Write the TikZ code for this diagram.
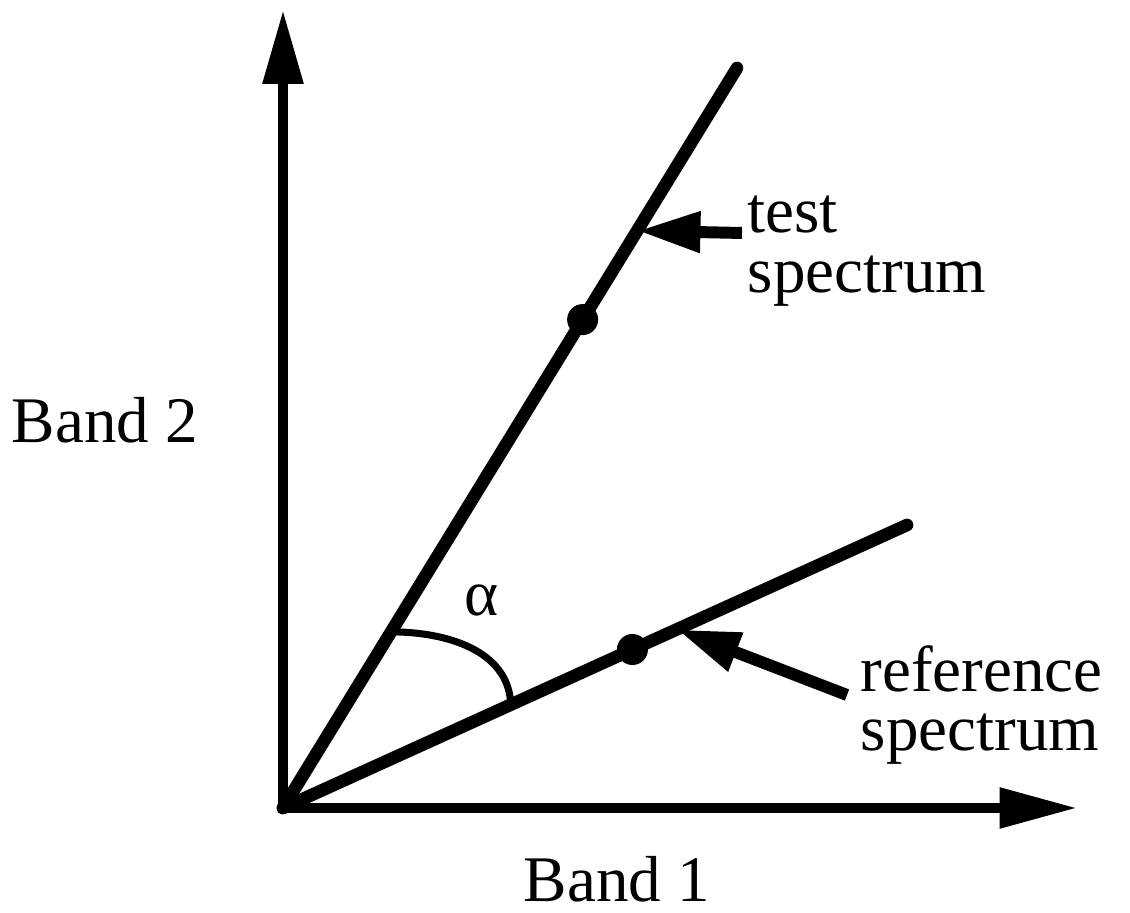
\documentclass[tikz,border=0pt]{standalone}
\usepackage{fontspec}
\setmainfont{Liberation Serif}
\usetikzlibrary{arrows.meta}

\begin{document}
\begin{tikzpicture}[x=0.01cm, y=0.01cm,
          axis/.style={line width=2.8pt, line join=miter,
            arrows={Triangle[length=21pt, width=11pt]-Triangle[length=22pt, width=11pt]}},
          spec/.style={line width=3.6pt, line cap=round},
          ptr/.style={line width=3.4pt, -{Triangle[length=18pt, width=11pt]}},
          dot/.style={circle, fill, inner sep=0pt, minimum size=0.31cm},
          lbl/.style={font=\fontsize{18.5}{17}\selectfont, inner sep=0pt, align=left}]
        \useasboundingbox (-283,-105) rectangle (847,808);
        \coordinate (o) at (0,0);
        \coordinate (yt) at (0,798);
        \coordinate (xt) at (794,0);
        \draw[axis] (yt) -- (o) -- (xt);
        \draw[spec] (o) -- (454,740) node[dot, pos=0.66] (td) {}
          coordinate[pos=0.78] (th) coordinate[pos=0.238] (ta);
        \draw[spec] (o) -- (624,283) node[dot, pos=0.56] (rd) {}
          coordinate[pos=0.631] (rh) coordinate[pos=0.365] (ra);
        \draw[line width=2pt] (ta) to[out=0, in=92] (ra);
        \node[lbl, anchor=base] (b2) at (-178,365) {Band 2};
        \node[lbl, anchor=base] (b1) at (334,-94) {Band 1};
        \node[lbl, anchor=west] (tl) at (464,557) {test\\spectrum};
        \node[lbl, anchor=west] (rl) at (577,103) {reference\\spectrum};
        \node[lbl] (al) at (199,208) {α};
        \coordinate (tt) at (459,575);
        \coordinate (rt) at (564,113);
        \draw[ptr] (tt) -- (th);
        \draw[ptr] (rt) -- (rh);
      \end{tikzpicture}
\end{document}
